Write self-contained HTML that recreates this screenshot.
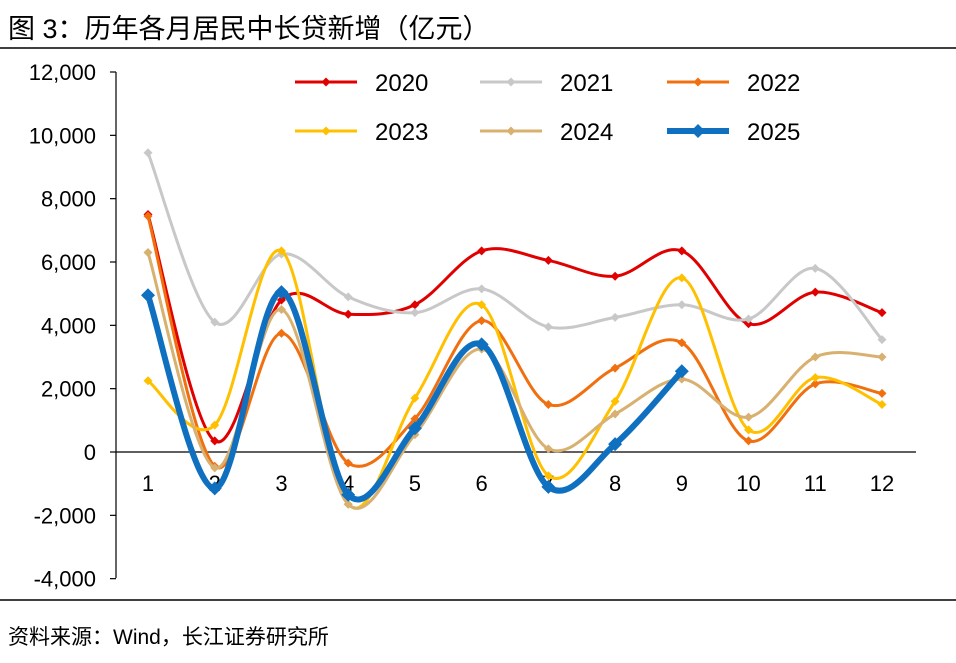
<!DOCTYPE html>
<html><head><meta charset="utf-8"><style>
body{margin:0;background:#fff;width:956px;height:658px;overflow:hidden;font-family:"Liberation Sans","Noto Sans CJK SC",sans-serif;}
</style></head><body>
<svg id="c" width="956" height="658" xmlns="http://www.w3.org/2000/svg">
<text x="8" y="38" font-size="27" fill="#000" font-family="Liberation Sans, Noto Sans CJK SC, sans-serif">图 3：历年各月居民中长贷新增（亿元）</text>
<line x1="0" y1="48" x2="956" y2="48" stroke="#000" stroke-width="1.5"/>
<line x1="0" y1="600" x2="956" y2="600" stroke="#000" stroke-width="1.5"/>
<text x="8" y="644" font-size="21" fill="#000" font-family="Liberation Sans, Noto Sans CJK SC, sans-serif">资料来源：Wind，长江证券研究所</text>
<g id="axes"></g><g id="series"></g><g id="legend"></g>
</svg>
<script>
const months=["1","2","3","4","5","6","7","8","9","10","11","12"];
const yTicks=[-4000,-2000,0,2000,4000,6000,8000,10000,12000];
const seriesNames=["2020","2021","2022","2023","2024","2025"];
const s2020=[7500,350,4800,4350,4650,6350,6050,5550,6350,4050,5050,4400];
const s2021=[9450,4100,6250,4900,4400,5150,3950,4250,4650,4200,5800,3550];
const s2022=[7450,-450,3750,-350,1050,4150,1500,2650,3450,350,2150,1850];
const s2023=[2250,850,6350,-1650,1700,4650,-750,1600,5500,700,2350,1500];
const s2024=[6300,-500,4500,-1650,550,3250,100,1200,2300,1100,3000,3000];
const s2025=[4950,-1150,5050,-1350,750,3400,-1100,250,2550];
const colors=["#e00000","#c8c8c8","#f07010","#ffc000","#d8b070","#1070c0"];
const NS="http://www.w3.org/2000/svg";
function X(i){return 148+i*(882-148)/11;}
function Y(v){return 452-v*(452-72)/12000;}
function mk(tag,attrs,parent){const e=document.createElementNS(NS,tag);for(const k in attrs)e.setAttribute(k,attrs[k]);parent.appendChild(e);return e;}
const axes=document.getElementById('axes');
const ax=mk('line',{x1:116,y1:72,x2:116,y2:578,stroke:'#000','stroke-width':1.2},axes);


const xa=mk('line',{x1:116,y1:Y(0),x2:916,y2:Y(0),stroke:'#000','stroke-width':1.2},axes);


yTicks.forEach(v=>{
 const t=mk('line',{x1:110,y1:Y(v),x2:116,y2:Y(v),stroke:'#000','stroke-width':1.2},axes);
 
 
 const l=mk('text',{x:96,y:Y(v)+8,'font-size':22,'text-anchor':'end'},axes);
 l.textContent=v.toLocaleString('en-US');
 
 
});
months.forEach((m,i)=>{
 const l=mk('text',{x:X(i),y:491,'font-size':22,'text-anchor':'middle'},axes);
 l.textContent=m;
 
 
});
function smooth(pts){
 let d=`M${pts[0][0]},${pts[0][1]}`;
 for(let i=0;i<pts.length-1;i++){
  const p0=pts[i-1]||pts[i],p1=pts[i],p2=pts[i+1],p3=pts[i+2]||p2;
  const c1=[p1[0]+(p2[0]-p0[0])/6,p1[1]+(p2[1]-p0[1])/6];
  const c2=[p2[0]-(p3[0]-p1[0])/6,p2[1]-(p3[1]-p1[1])/6];
  d+=` C${c1[0]},${c1[1]} ${c2[0]},${c2[1]} ${p2[0]},${p2[1]}`;
 }
 return d;
}
const data=[s2020,s2021,s2022,s2023,s2024,s2025];
const sg=document.getElementById('series');
data.forEach((arr,k)=>{
 const g=mk('g',{},sg);
 
 
 const big=k===5;
 const pts=arr.map((v,i)=>[X(i),Y(v)]);
 const p=mk('path',{d:smooth(pts),fill:'none',stroke:colors[k],'stroke-width':big?6:3},g);
 
 
 pts.forEach(q=>{
  const r=big?7:4.5;
  const m=mk('path',{d:`M${q[0]},${q[1]-r} L${q[0]+r},${q[1]} L${q[0]},${q[1]+r} L${q[0]-r},${q[1]} Z`,fill:colors[k]},g);
  
  
 });
});
const lg=document.getElementById('legend');
const lx=[295,480,667],ly=[82,131];
seriesNames.forEach((n,k)=>{
 const x=lx[k%3],y=ly[Math.floor(k/3)],big=k===5;
 const g=mk('g',{},lg);
 
 
 mk('line',{x1:x,y1:y,x2:x+62,y2:y,stroke:colors[k],'stroke-width':big?6:3},g);
 const r=big?7:4.5,cx=x+31;
 mk('path',{d:`M${cx},${y-r} L${cx+r},${y} L${cx},${y+r} L${cx-r},${y} Z`,fill:colors[k]},g);
 const t=mk('text',{x:x+80,y:y+9,'font-size':24},g);
 t.textContent=n;
});
</script>
</body></html>
